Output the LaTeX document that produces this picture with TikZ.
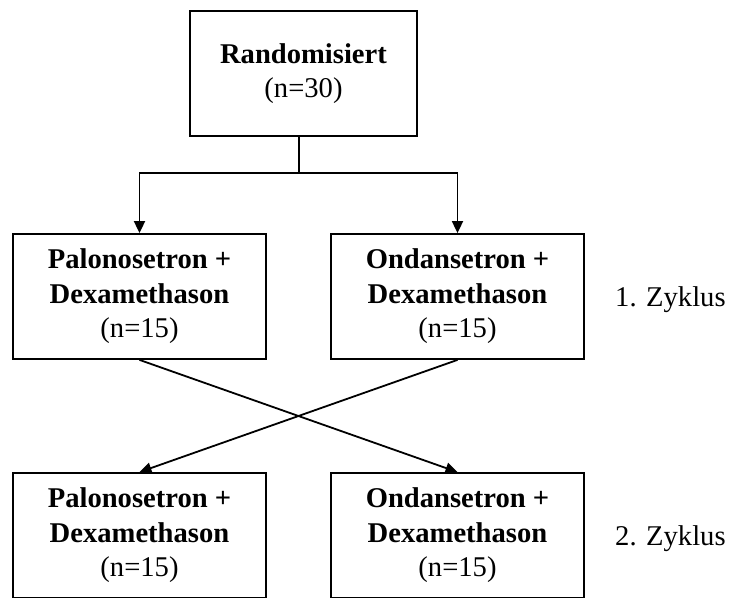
\documentclass[tikz,border=0pt]{standalone}
\usepackage{fontspec}
\setmainfont{Liberation Serif}
\usetikzlibrary{arrows.meta}
\begin{document}
\begin{tikzpicture}[x=1pt,y=-1pt,
  box/.style={draw, line width=1.8pt, minimum width=253pt, minimum height=125pt,
    inner sep=0pt, align=center, font=\fontsize{28.6}{34.5}\selectfont},
  conn/.style={line width=1.8pt},
  arr/.style={conn,-{Triangle[length=12pt,width=11pt]}},
  lbl/.style={font=\fontsize{28.6}{34.5}\selectfont, anchor=west, inner sep=0pt}]
\useasboundingbox[fill=white] (0,0) rectangle (733,597);
\node[box, minimum width=227pt] (top) at (303.5,73.5) {\textbf{Randomisiert}\\(n=30)};
\node[box] (p1) at (139.5,296.5) {\textbf{Palonosetron +}\\\textbf{Dexamethason}\\(n=15)};
\node[box] (o1) at (457.5,296.5) {\textbf{Ondansetron +}\\\textbf{Dexamethason}\\(n=15)};
\node[box] (p2) at (139.5,535.5) {\textbf{Palonosetron +}\\\textbf{Dexamethason}\\(n=15)};
\node[box] (o2) at (457.5,535.5) {\textbf{Ondansetron +}\\\textbf{Dexamethason}\\(n=15)};
\node[lbl] (z1) at (615,300) {1. Zyklus};
\node[lbl] (z2) at (615,539) {2. Zyklus};
\coordinate (split) at (299,173);
\draw[conn] (top.south -| split) -- (split);
\draw[arr] (split) -| (p1.north);
\draw[arr] (split) -| (o1.north);
\draw[arr] (p1.south) -- (o2.north);
\draw[arr] (o1.south) -- (p2.north);
\end{tikzpicture}
\end{document}
